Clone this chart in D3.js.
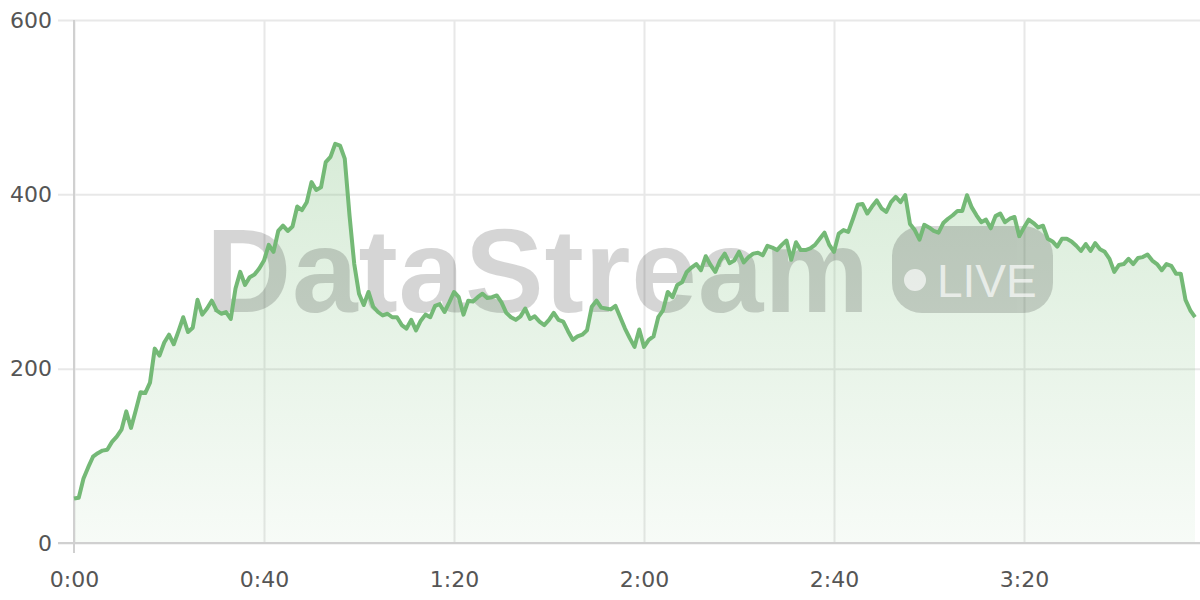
<!DOCTYPE html>
<html><head><meta charset="utf-8">
<script src="https://cdn.jsdelivr.net/npm/d3@7"></script>
<style>html,body{margin:0;padding:0;background:#fff;overflow:hidden}</style>
</head><body><svg id="c" width="1200" height="600"></svg>
<script>
const values = [51,52,74,87,99,103,106,107,116,122,130,151,132,152,173,172,184,223,215,230,
239,228,243,259,242,247,279,262,269,278,267,263,265,257,292,311,296,305,308,315,
324,342,334,358,364,358,363,386,382,391,414,405,408,437,443,458,456,441,376,320,
286,273,288,271,265,261,263,259,259,250,246,256,244,255,262,259,272,274,265,276,
288,282,262,278,277,282,286,281,282,284,276,264,259,256,260,269,257,260,254,250,
256,264,256,254,243,233,237,239,244,271,278,270,269,268,272,259,246,235,225,245,
225,233,237,259,267,288,282,296,299,311,316,320,313,329,319,311,324,332,321,324,
334,322,328,332,333,330,341,339,336,342,347,325,345,336,336,338,342,349,356,342,
334,355,359,357,372,388,389,378,386,393,384,380,391,397,391,399,366,359,348,365,
362,358,356,367,372,376,381,381,399,385,376,368,371,361,375,378,368,372,374,352,
362,371,367,362,364,349,346,340,349,349,346,341,335,343,335,344,337,334,326,311,
319,320,326,320,327,328,331,324,320,313,320,318,309,309,279,267,259];
const seconds = values.map((v,i)=>i);
const yTicks = [0,200,400,600];
const xTicks = [0,40,80,120,160,200];
const xTickLabels = ["0:00","0:40","1:20","2:00","2:40","3:20"];
const watermarkText = "DataStream";
const badgeText = "LIVE";

const svg = d3.select("#c");
const x = d3.scaleLinear().domain([0, seconds.length-1]).range([74, 1195]);
const y = d3.scaleLinear().domain([0, 600]).range([543, 20]);

const defs = svg.append("defs");
const g = defs.append("linearGradient").attr("id","ag").attr("x1",0).attr("y1",0).attr("x2",0).attr("y2",1);
g.append("stop").attr("offset","0%").attr("stop-color","#7cbf7c").attr("stop-opacity",0.3);
g.append("stop").attr("offset","100%").attr("stop-color","#7cbf7c").attr("stop-opacity",0.06);

// horizontal grid
const yAxis = d3.axisLeft(y).tickValues(yTicks).tickSize(-(1200-58)).tickPadding(0).tickFormat("");
svg.append("g").attr("transform","translate(58,0)").call(yAxis)
  .call(s=>s.select(".domain").remove())
  .call(s=>s.selectAll("line").attr("stroke","#e8e8e8").attr("stroke-width",2));
// vertical grid
const xGrid = d3.axisBottom(x).tickValues(xTicks).tickSize(-(543-20)).tickFormat("");
svg.append("g").attr("transform","translate(0,543)").call(xGrid)
  .call(s=>s.select(".domain").remove())
  .call(s=>s.selectAll("line").attr("stroke","#e8e8e8").attr("stroke-width",2));

// area
const area = d3.area().x((d,i)=>x(seconds[i])).y0(y(0)).y1(d=>y(d));
svg.append("path").datum(values).attr("d",area).attr("fill","url(#ag)");

// watermark
const wm = svg.append("g").attr("opacity",0.16);
wm.append("text").attr("x",206).attr("y",312).text(watermarkText)
  .attr("font-family","Liberation Sans, Arial, sans-serif").attr("font-weight","bold")
  .attr("font-size",118).attr("letter-spacing",0.8).attr("fill","#000");
wm.append("rect").attr("x",892).attr("y",226).attr("width",161).attr("height",87).attr("rx",30).attr("fill","#000");
const badge = svg.append("g").attr("opacity",0.65);
badge.append("circle").attr("cx",915).attr("cy",280).attr("r",11).attr("fill","#fff");
badge.append("text").attr("x",937).attr("y",297).text(badgeText)
  .attr("font-family","Liberation Sans, Arial, sans-serif").attr("font-size",46).attr("fill","#fff");

// axes lines
svg.append("line").attr("x1",x(0)).attr("x2",x(0)).attr("y1",y(600)).attr("y2",y(0)+10).attr("stroke","#d0d0d0").attr("stroke-width",2);
svg.append("line").attr("x1",58).attr("x2",1200).attr("y1",y(0)).attr("y2",y(0)).attr("stroke","#d0d0d0").attr("stroke-width",2);

// line
const line = d3.line().x((d,i)=>x(seconds[i])).y(d=>y(d));
svg.append("path").datum(values).attr("d",line).attr("fill","none")
  .attr("stroke","#74b976").attr("stroke-width",4).attr("stroke-linejoin","round");

// tick labels
const yl = d3.axisLeft(y).tickValues(yTicks).tickSize(0).tickPadding(0);
svg.append("g").attr("transform","translate(52,0)").call(yl)
  .call(s=>s.select(".domain").remove())
  .call(s=>s.selectAll("text").attr("font-family","DejaVu Sans, sans-serif").attr("font-size",22).attr("fill","#555"));
const xl = d3.axisBottom(x).tickValues(xTicks).tickSize(0).tickPadding(0).tickFormat((d,i)=>xTickLabels[i]);
svg.append("g").attr("transform","translate(0,571)").call(xl)
  .call(s=>s.select(".domain").remove())
  .call(s=>s.selectAll("text").attr("font-family","DejaVu Sans, sans-serif").attr("font-size",22).attr("fill","#555"));
</script></body></html>
